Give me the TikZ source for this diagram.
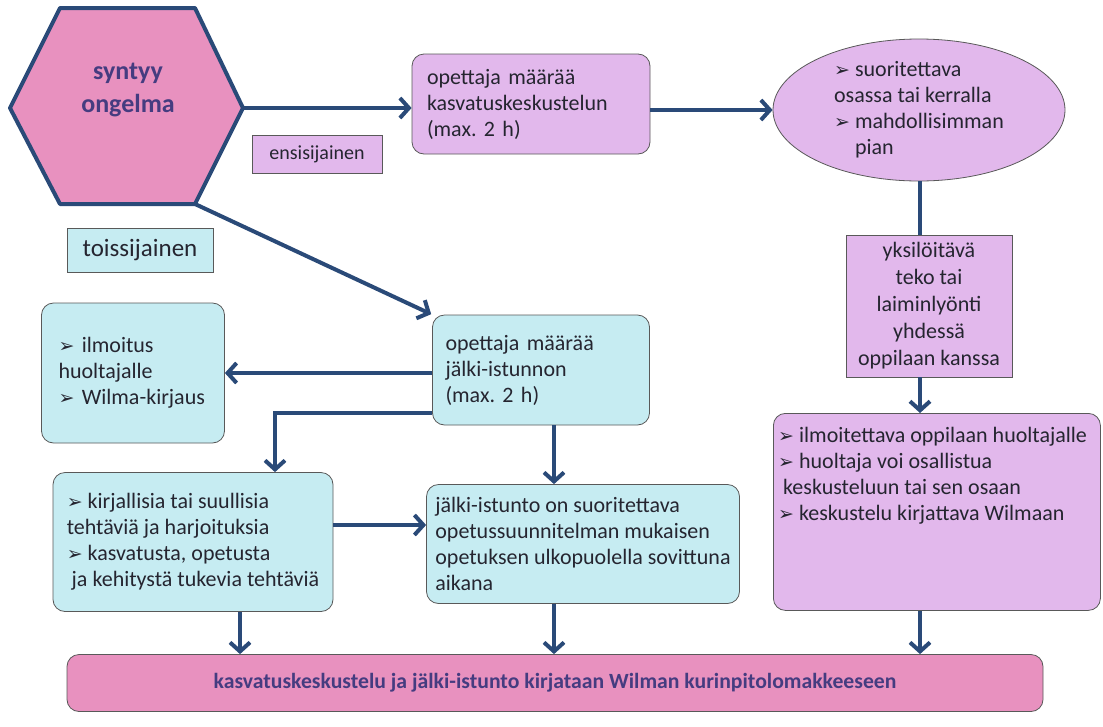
\documentclass[tikz,border=0pt]{standalone}
\usepackage{fontspec}
\setmainfont{Carlito}
\newfontfamily\symfont{DejaVu Sans}
\usetikzlibrary{positioning,arrows.meta,shapes.geometric,calc}

\definecolor{hexpink}{HTML}{E891BF}
\definecolor{lilac}{HTML}{E2B8EC}
\definecolor{paleblue}{HTML}{C6ECF2}
\definecolor{navy}{HTML}{2A4A78}
\definecolor{indigo}{HTML}{453C80}
\definecolor{inkgray}{HTML}{252530}

\newcommand{\bul}{{\symfont\fontsize{19}{19}\selectfont ➢}\ }
\frenchspacing

\begin{document}
\begin{tikzpicture}[x=1pt, y=-1pt,
    every node/.append style={font=\fontsize{22}{26}\selectfont, text=inkgray},
    box/.style={draw=black!65, line width=0.8pt, rounded corners=12pt, inner sep=0pt},
    lilacbox/.style={box, fill=lilac},
    bluebox/.style={box, fill=paleblue},
    tagbox/.style={draw=black!65, line width=0.8pt, inner sep=0pt},
    flow/.style={draw=navy, line width=4pt, -{Straight Barb[length=9pt,width=20pt]}},
    plain/.style={draw=navy, line width=4pt}]
\useasboundingbox (0,0) rectangle (1103,726);

% start hexagon
\draw[fill=hexpink, draw=navy, line width=4pt, line join=round]
    (60,8) -- (195,8) -- (243,108) -- (195,204) -- (60,204) -- (10,108) -- cycle;
\coordinate (hexR) at (243,108);
\coordinate (hexBR) at (195,204);
\node[font=\fontsize{26}{33}\selectfont\bfseries, text=indigo, align=center] (problem) at (128,90) {syntyy\\ongelma};

% labels
\node[tagbox, fill=lilac, minimum width=130, minimum height=38, font=\fontsize{20}{24}\selectfont] (first) at (317,154) {ensisijainen};
\node[tagbox, fill=paleblue, minimum width=146, minimum height=44, font=\fontsize{25}{28}\selectfont] (second) at (140,250) {toissijainen};

% upper branch
\node[lilacbox, minimum width=238, minimum height=100, text width=208, align=left] (talk) at (531,104)
    {opettaja määrää\\kasvatuskeskustelun\\(max. 2 h)};
\node[ellipse, draw=black!65, line width=0.8pt, fill=lilac, minimum width=292, minimum height=142, inner sep=0pt, align=left] (when) at (919,110)
    {\bul suoritettava\\osassa tai kerralla\\\bul mahdollisimman\\\phantom{\bul}pian\hspace{14pt}};
\node[tagbox, fill=lilac, minimum width=166, minimum height=142, align=center, font=\fontsize{22}{27}\selectfont] (deed) at (929,306)
    {yksilöitävä\\teko tai\\laiminlyönti\\yhdessä\\oppilaan kanssa};
\node[lilacbox, minimum width=327, minimum height=197, anchor=north west] (notify) at (773,413) {};
\node[anchor=north west, align=left, inner sep=0pt] (notifytext) at (778,427)
    {\bul ilmoitettava oppilaan huoltajalle\\\bul huoltaja voi osallistua\\\ keskusteluun tai sen osaan\\\bul keskustelu kirjattava Wilmaan};

% lower branch
\node[bluebox, minimum width=217, minimum height=110, text width=191, align=left] (detain) at (541,370)
    {opettaja määrää\\jälki-istunnon\\(max. 2 h)};
\node[bluebox, minimum width=183, minimum height=140, text width=149, align=left] (inform) at (133,373)
    {\bul ilmoitus\\huoltajalle\\\bul Wilma-kirjaus};
\node[bluebox, minimum width=280, minimum height=139, align=left] (tasks) at (193,542)
    {\bul kirjallisia tai suullisia\\tehtäviä ja harjoituksia\\\bul kasvatusta, opetusta\\\ ja kehitystä tukevia tehtäviä};
\node[bluebox, minimum width=313, minimum height=119, align=left] (session) at (583,544)
    {jälki-istunto on suoritettava\\opetussuunnitelman mukaisen\\opetuksen ulkopuolella sovittuna\\aikana};

% record
\node[box, fill=hexpink, minimum width=976, minimum height=57, font=\fontsize{21.7}{24}\selectfont\bfseries, text=indigo] (record) at (555,683)
    {kasvatuskeskustelu ja jälki-istunto kirjataan Wilman kurinpitolomakkeeseen};

% columns for the vertical arrows
\coordinate (colA) at (240,0);
\coordinate (colB) at (554,0);
\coordinate (colC) at (920,0);
\coordinate (split) at (275,413);

% connectors
\draw[flow] (hexR) -- (hexR -| talk.west);
\draw[flow] (talk.east |- when.west) -- (when.west);
\draw[plain] (when.south -| colC) -- (deed.north -| colC);
\draw[flow] (deed.south -| colC) -- (notify.north -| colC);
\draw[flow, shorten >=1pt] (hexBR) -- (detain.north west);
\draw[flow] (detain.west |- inform.east) -- (inform.east);
\draw[flow] (detain.west |- split) -- (split) -- (split |- tasks.north);
\draw[flow] (detain.south -| colB) -- (session.north -| colB);
\draw[flow] ([yshift=17pt]tasks.east) -- ([yshift=17pt]tasks.east -| session.west);
\draw[flow] (tasks.south -| colA) -- (record.north -| colA);
\draw[flow] (session.south -| colB) -- (record.north -| colB);
\draw[flow] (notify.south -| colC) -- (record.north -| colC);
\end{tikzpicture}
\end{document}
